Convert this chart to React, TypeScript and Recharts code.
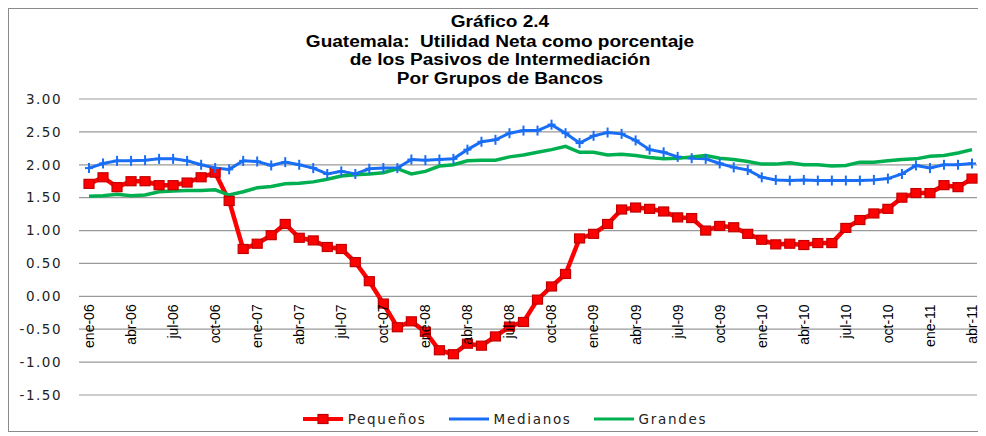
import { LineChart, Line, XAxis, YAxis, CartesianGrid, Legend } from 'recharts';

// meses ene-06 .. abr-11
const meses = [
  'ene-06', 'feb-06', 'mar-06', 'abr-06', 'may-06', 'jun-06', 'jul-06', 'ago-06', 'sep-06', 'oct-06', 'nov-06', 'dic-06',
  'ene-07', 'feb-07', 'mar-07', 'abr-07', 'may-07', 'jun-07', 'jul-07', 'ago-07', 'sep-07', 'oct-07', 'nov-07', 'dic-07',
  'ene-08', 'feb-08', 'mar-08', 'abr-08', 'may-08', 'jun-08', 'jul-08', 'ago-08', 'sep-08', 'oct-08', 'nov-08', 'dic-08',
  'ene-09', 'feb-09', 'mar-09', 'abr-09', 'may-09', 'jun-09', 'jul-09', 'ago-09', 'sep-09', 'oct-09', 'nov-09', 'dic-09',
  'ene-10', 'feb-10', 'mar-10', 'abr-10', 'may-10', 'jun-10', 'jul-10', 'ago-10', 'sep-10', 'oct-10', 'nov-10', 'dic-10',
  'ene-11', 'feb-11', 'mar-11', 'abr-11',
];

const pequenos = [
  1.71, 1.81, 1.66, 1.75, 1.75, 1.69, 1.69, 1.73, 1.81, 1.88, 1.45, 0.72,
  0.8, 0.93, 1.1, 0.89, 0.85, 0.75, 0.72, 0.52, 0.23, -0.11, -0.47, -0.38,
  -0.54, -0.82, -0.88, -0.72, -0.75, -0.61, -0.46, -0.39, -0.05, 0.15, 0.34, 0.88,
  0.95, 1.1, 1.32, 1.35, 1.33, 1.29, 1.2, 1.19, 1.0, 1.07, 1.05, 0.95,
  0.86, 0.79, 0.8, 0.78, 0.81, 0.81, 1.04, 1.16, 1.26, 1.33, 1.5, 1.57,
  1.57, 1.69, 1.66, 1.79,
];

const medianos = [
  1.95, 2.02, 2.06, 2.06, 2.07, 2.09, 2.09, 2.06, 2.0, 1.95, 1.93, 2.06,
  2.05, 1.99, 2.04, 2.0, 1.95, 1.86, 1.9, 1.86, 1.94, 1.95, 1.95, 2.08,
  2.07, 2.08, 2.09, 2.23, 2.35, 2.38, 2.48, 2.52, 2.52, 2.61, 2.48, 2.33,
  2.44, 2.49, 2.47, 2.37, 2.23, 2.19, 2.12, 2.1, 2.09, 2.02, 1.96, 1.92,
  1.81, 1.77, 1.76, 1.77, 1.76, 1.76, 1.76, 1.76, 1.77, 1.79, 1.86, 1.99,
  1.95, 2.0, 2.0, 2.02,
];

const grandes = [
  1.52, 1.53, 1.55, 1.53, 1.54, 1.59, 1.6, 1.61, 1.61, 1.62, 1.54, 1.59,
  1.65, 1.67, 1.71, 1.72, 1.74, 1.78, 1.83, 1.85, 1.86, 1.88, 1.94, 1.86,
  1.9, 1.98, 2.0, 2.06, 2.07, 2.07, 2.12, 2.15, 2.19, 2.23, 2.28, 2.19,
  2.19, 2.15, 2.16, 2.14, 2.11, 2.09, 2.1, 2.12, 2.14, 2.1, 2.08, 2.05,
  2.01, 2.01, 2.03, 2.0, 2.0, 1.98, 1.99, 2.04, 2.04, 2.06, 2.08, 2.09,
  2.13, 2.14, 2.18, 2.23,
];

const yTicks = [-1.5, -1, -0.5, 0, 0.5, 1, 1.5, 2, 2.5, 3];

const titulo = [
  'Gráfico 2.4',
  'Guatemala:  Utilidad Neta como porcentaje',
  'de los Pasivos de Intermediación',
  'Por Grupos de Bancos',
];

const data = meses.map((mes, i) => ({
  mes,
  Pequeños: pequenos[i],
  Medianos: medianos[i],
  Grandes: grandes[i],
}));

const W = 972;
const H = 422;
const PLOT_H = 296;
const Y_MIN = -1.5;
const Y_MAX = 3;

const RED = '#ff0000';
const BLUE = '#1a6ef5';
const GREEN = '#00b050';

const SquareDot = (props: any) => {
  const { cx, cy, index } = props;
  if (cx == null || cy == null) return null;
  return (
    <rect key={`sq-${index}`} x={cx - 5} y={cy - 4.5} width={10} height={9} fill={RED} stroke="#c00000" strokeWidth={1.2} />
  );
};

const CrossDot = (props: any) => {
  const { cx, cy, index } = props;
  if (cx == null || cy == null) return null;
  return (
    <g key={`cr-${index}`}>
      <line x1={cx - 4} x2={cx + 4} y1={cy} y2={cy} stroke={BLUE} strokeWidth={2} />
      <line x1={cx} x2={cx} y1={cy - 5} y2={cy + 5} stroke={BLUE} strokeWidth={2} />
    </g>
  );
};

// etiquetas del eje X colgando bajo la linea del cero
const XTick = (props: any) => {
  const { x, y, payload } = props;
  const zeroY = y - (PLOT_H * (0 - Y_MIN)) / (Y_MAX - Y_MIN);
  const ty = zeroY + 8;
  return (
    <text
      x={x}
      y={ty}
      dy="0.35em"
      transform={`rotate(-90, ${x}, ${ty})`}
      textAnchor="end"
      fontFamily="'Liberation Sans Narrow', 'Arial Narrow', sans-serif"
      fontSize={14}
      fill="#000"
    >
      {payload.value}
    </text>
  );
};

const LegendContent = () => {
  const items = [
    { name: 'Pequeños', color: RED, marker: 'square' },
    { name: 'Medianos', color: BLUE, marker: 'cross' },
    { name: 'Grandes', color: GREEN, marker: 'none' },
  ];
  return (
    <div
      style={{
        display: 'flex',
        justifyContent: 'center',
        alignItems: 'center',
        height: 24,
        paddingLeft: 46,
        fontFamily: "'DejaVu Sans', Verdana, sans-serif",
        fontSize: 13.5,
        letterSpacing: 1.7,
        color: '#222',
      }}
    >
      {items.map((it) => (
        <div key={it.name} style={{ display: 'flex', alignItems: 'center', marginRight: 22 }}>
          <svg width={40} height={12}>
            <line x1={0} x2={40} y1={6} y2={6} stroke={it.color} strokeWidth={it.marker === 'square' ? 4 : 3} />
            {it.marker === 'square' && (
              <rect x={15} y={1.5} width={10} height={9} fill={RED} stroke="#c00000" strokeWidth={1.2} />
            )}
          </svg>
          <span style={{ marginLeft: 5 }}>{it.name}</span>
        </div>
      ))}
    </div>
  );
};

export default function App() {
  return (
    <div style={{ position: 'relative', width: W, height: H, border: '1px solid #8a8a8a', background: '#fff' }}>
      <div
        style={{
          position: 'absolute',
          top: 4,
          left: 0,
          width: W,
          textAlign: 'center',
          fontFamily: "'Liberation Sans', Arial, sans-serif",
          fontWeight: 'bold',
          fontSize: 16,
          lineHeight: '18.5px',
          whiteSpace: 'pre',
          color: '#000',
          zIndex: 1,
        }}
      >
        {titulo.map((t, i) => (
          <div key={t} style={{ marginBottom: i === 0 ? 1 : 0, transform: 'translateX(5px) scaleX(1.19)' }}>
            {t}
          </div>
        ))}
      </div>
      <LineChart width={W} height={H} data={data} margin={{ top: 90, right: 4, left: 0, bottom: 0 }}>
        <CartesianGrid vertical={false} stroke="#9a9a9a" strokeWidth={1.2} />
        <XAxis
          dataKey="mes"
          interval={2}
          axisLine={false}
          tickLine={false}
          tickSize={0}
          tickMargin={0}
          height={12}
          padding={{ left: 10, right: 5 }}
          tick={<XTick />}
        />
        <YAxis
          type="number"
          domain={[Y_MIN, Y_MAX]}
          ticks={yTicks}
          width={70}
          axisLine={false}
          tickLine={false}
          tickSize={0}
          tickMargin={17}
          tickFormatter={(v: number) => v.toFixed(2)}
          tick={{ fontFamily: "'DejaVu Sans', Verdana, sans-serif", fontSize: 13.5, letterSpacing: 1.5, fill: '#222' }}
        />
        <Legend verticalAlign="bottom" height={24} content={<LegendContent />} />
        <Line
          dataKey="Pequeños"
          stroke={RED}
          strokeWidth={4.5}
          dot={SquareDot}
          activeDot={false}
          isAnimationActive={false}
        />
        <Line
          dataKey="Medianos"
          stroke={BLUE}
          strokeWidth={3}
          dot={CrossDot}
          activeDot={false}
          isAnimationActive={false}
        />
        <Line
          dataKey="Grandes"
          stroke={GREEN}
          strokeWidth={3.5}
          dot={false}
          activeDot={false}
          isAnimationActive={false}
        />
      </LineChart>
    </div>
  );
}
